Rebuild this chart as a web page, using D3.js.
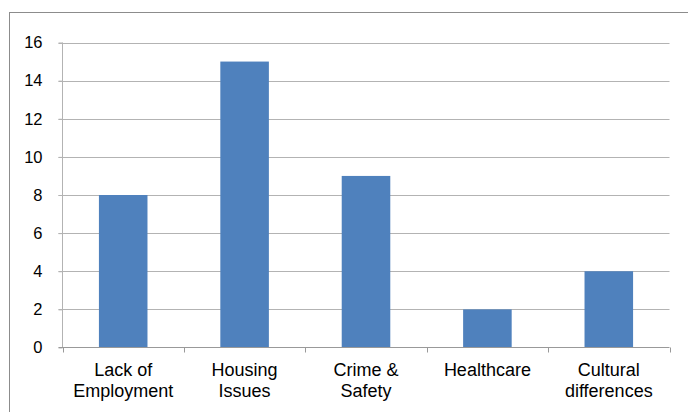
<!DOCTYPE html>
<html>
<head>
<meta charset="utf-8">
<script src="https://cdn.jsdelivr.net/npm/d3@7"></script>
<style>
  html, body { margin: 0; padding: 0; background: #fff; }
  svg { display: block; }
  text { font-family: "Liberation Sans", Arial, sans-serif; fill: #000; }
</style>
</head>
<body>
<svg id="chart" width="688" height="412"></svg>
<script>
// Issues raised, count per category
const categories = [["Lack of", "Employment"], ["Housing", "Issues"], ["Crime &", "Safety"], ["Healthcare"], ["Cultural", "differences"]];
const values = [8, 15, 9, 2, 4];
const yTicks = [0, 2, 4, 6, 8, 10, 12, 14, 16];

const svg = d3.select("#chart");
const plotLeft = 62.5, plotRight = 669.5, plotTop = 42.5, plotBottom = 347.5;

// Outer frame
svg.append("rect")
  .attr("x", 9.5).attr("y", 12.5)
  .attr("width", 700).attr("height", 420)
  .attr("fill", "none").attr("stroke", "#8c8c8c").attr("stroke-width", 1);

const x = d3.scaleBand()
  .domain(d3.range(categories.length))
  .range([plotLeft, plotRight])
  .paddingInner(0.6).paddingOuter(0.3);

const y = d3.scaleLinear().domain([0, 16]).range([plotBottom, plotTop]);

// Horizontal gridlines
svg.append("g").selectAll("line")
  .data(yTicks.filter(d => d > 0))
  .join("line")
  .attr("x1", plotLeft - 4).attr("x2", plotRight)
  .attr("y1", d => Math.round(y(d)) + 0.5).attr("y2", d => Math.round(y(d)) + 0.5)
  .attr("stroke", "#b3b3b3").attr("stroke-width", 1);

// Bars
svg.append("g").selectAll("rect")
  .data(values)
  .join("rect")
  .attr("x", (d, i) => x(i))
  .attr("width", x.bandwidth())
  .attr("y", d => y(d))
  .attr("height", d => y(0) - y(d))
  .attr("fill", "#4f81bd");

// Y axis
const yAxis = d3.axisLeft(y).tickValues(yTicks).tickSize(4).tickPadding(16);
const gy = svg.append("g").attr("transform", `translate(${plotLeft},0)`).call(yAxis);
gy.select(".domain").attr("stroke", "#b3b3b3").attr("d", `M0,${plotTop}V${plotBottom}`);
gy.selectAll(".tick line").attr("stroke", "#b3b3b3");
gy.selectAll(".tick text").style("font-size", "16.5px").style("font-family", "'Liberation Sans', Arial, sans-serif").attr("fill", "#000");

// X axis baseline and category boundary ticks
const bounds = d3.range(categories.length + 1).map(i => plotLeft + i * (plotRight - plotLeft) / categories.length);
svg.append("line")
  .attr("x1", plotLeft - 4).attr("x2", plotRight)
  .attr("y1", plotBottom).attr("y2", plotBottom)
  .attr("stroke", "#999").attr("stroke-width", 1);
svg.append("g").selectAll("line")
  .data(bounds)
  .join("line")
  .attr("x1", d => Math.round(d) + 0.5).attr("x2", d => Math.round(d) + 0.5)
  .attr("y1", plotBottom).attr("y2", plotBottom + 5)
  .attr("stroke", "#999");

// Category labels
const lbl = svg.append("g").selectAll("text")
  .data(categories)
  .join("text")
  .attr("x", (d, i) => x(i) + x.bandwidth() / 2)
  .attr("y", 376)
  .attr("text-anchor", "middle")
  .style("font-size", "18px");
lbl.selectAll("tspan")
  .data(d => d)
  .join("tspan")
  .attr("x", function() { return d3.select(this.parentNode).attr("x"); })
  .attr("dy", (d, i) => i === 0 ? 0 : 21)
  .text(d => d);
</script>
</body>
</html>
